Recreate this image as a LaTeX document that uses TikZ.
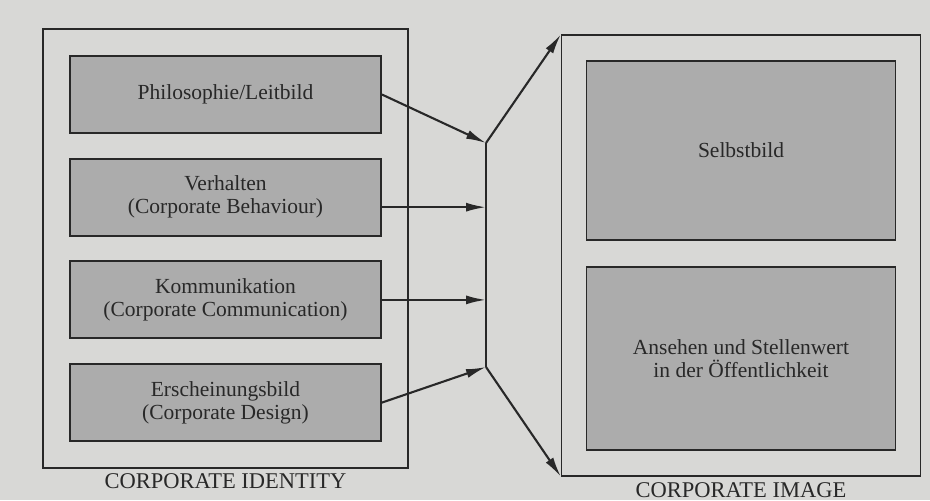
\documentclass[tikz,border=0pt]{standalone}
\usepackage{fontspec}
\setmainfont{Liberation Serif}
\usetikzlibrary{fit,arrows.meta}
\definecolor{paper}{RGB}{216,216,214}
\definecolor{raster}{RGB}{172,172,172}
\definecolor{ink}{RGB}{40,40,40}
\tikzstyle{part}=[
  draw=ink,
  line width=1.8pt,
  fill=raster,
  minimum width=311pt,
  minimum height=77pt,
  align=center,
  text=ink,
  font=\fontsize{21.5}{23}\selectfont
]
\tikzstyle{frame}=[draw=ink, line width=1.5pt]
\tikzstyle{flow}=[draw=ink, line width=2.1pt, -{Latex[length=20pt,width=9pt]}]
\tikzstyle{caption}=[text=ink, font=\fontsize{22.5}{24}\selectfont]

\begin{document}
\begin{tikzpicture}[x=1pt,y=-1pt]
          \def \InX {225.5}
          \def \InY {94.5}
          \def \OffInY {102.7}

          \def \OutX {741}
          \def \BarX {486}

          \fill[paper] (0,0) rectangle (930,500);

          % corporate identity
          \foreach \i/\txt in {0/{Philosophie/Leitbild},
                               1/{Verhalten\\(Corporate Behaviour)},
                               2/{Kommunikation\\(Corporate Communication)},
                               3/{Erscheinungsbild\\(Corporate Design)}}{
            \node[part] (n\i) at (\InX, \InY + \i * \OffInY) {\txt};
          }
          \node[frame, fit=(n0) (n3), inner xsep=26pt, inner ysep=26pt] (identity) {};
          \node[caption, below=1pt] (idlabel) at (identity.south) {CORPORATE IDENTITY};

          % corporate image
          \node[part, minimum width=309pt, minimum height=179pt] (m0) at (\OutX, 150.5) {Selbstbild};
          \node[part, minimum width=309pt, minimum height=183pt] (m1) at (\OutX, 358.5)
            {Ansehen und Stellenwert\\in der Öffentlichkeit};
          \node[frame, fit=(m0) (m1), inner xsep=24pt, inner ysep=25pt] (image) {};
          \node[caption, below=2pt] (imlabel) at (image.south) {CORPORATE IMAGE};

          % collecting bar
          \coordinate (top) at (\BarX, 143);
          \coordinate (bot) at (\BarX, 367);
          \draw[ink, line width=1.5pt] (top) -- (bot);

          \draw[flow] (n0.east) -- (top);
          \coordinate (c1) at ([yshift=-10pt]n1.east);
          \coordinate (c2) at (n2.east);
          \foreach \i in {1,2}{
            \draw[flow] (c\i) -- (c\i -| top);
          }
          \draw[flow] (n3.east) -- (bot);

          \draw[flow] (top) -- (image.north west);
          \draw[flow] (bot) -- (image.south west);
        \end{tikzpicture}
\end{document}
